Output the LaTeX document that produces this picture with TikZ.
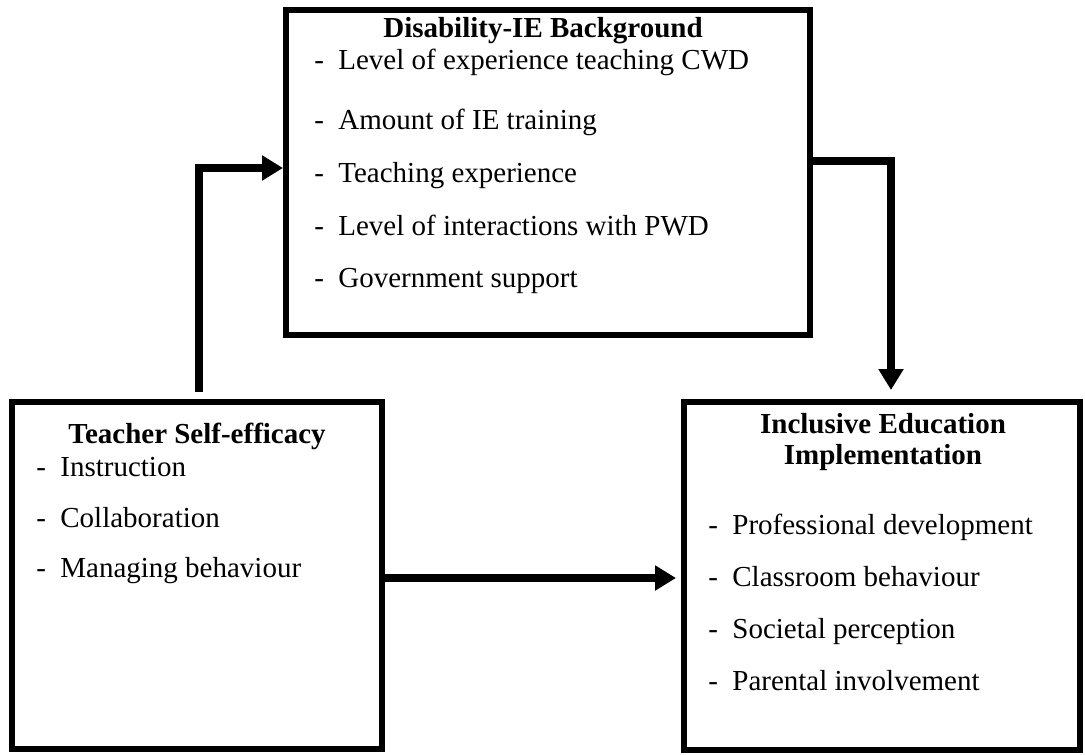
\documentclass[tikz,border=0pt]{standalone}
\usepackage{fontspec}
\setmainfont{Liberation Serif}
\usetikzlibrary{arrows.meta}
\begin{document}
\begin{tikzpicture}[x=0.5pt,y=-0.5pt,
  boxnode/.style={draw=black, line width=3pt, inner sep=0pt},
  arr/.style={line width=4pt, -{Triangle[length=10.5pt,width=12pt]}, line join=miter},
  item/.style={anchor=base west, inner sep=0pt, font=\fontsize{14.5}{17}\selectfont},
  ttl/.style={anchor=base, inner sep=0pt, font=\fontsize{14.5}{17}\selectfont\bfseries}]
\useasboundingbox (0,0) rectangle (1085,754);
\fill[white] (0,0) rectangle (1085,754);
% boxes
\node[boxnode, minimum width=262pt, minimum height=162.5pt] (tb) at (548,172.5) {};
\node[boxnode, minimum width=185pt, minimum height=173.5pt] (lb) at (197,575.5) {};
\node[boxnode, minimum width=198pt, minimum height=174pt] (rb) at (882,576) {};
% connectors
\coordinate (a1s) at (199,392);
\coordinate (a2e) at (891,390);
\coordinate (a3e) at (676,578);
\draw[arr] (a1s) |- (tb.west |- 0,168);
\draw[arr] (tb.east |- 0,161) -| (a2e);
\draw[arr] (lb.east |- a3e) -- (a3e);
% top box text
\node[ttl] (tbt) at (543,38) {Disability-IE Background};
\node[item] (tb1) at (314,70) {\makebox[12pt][l]{-}Level of experience teaching CWD};
\node[item] (tb2) at (314,130) {\makebox[12pt][l]{-}Amount of IE training};
\node[item] (tb3) at (314,183) {\makebox[12pt][l]{-}Teaching experience};
\node[item] (tb4) at (314,235) {\makebox[12pt][l]{-}Level of interactions with PWD};
\node[item] (tb5) at (314,287) {\makebox[12pt][l]{-}Government support};
% left box text
\node[ttl] (lbt) at (197,443) {Teacher Self-efficacy};
\node[item] (lb1) at (36,476) {\makebox[12pt][l]{-}Instruction};
\node[item] (lb2) at (36,527) {\makebox[12pt][l]{-}Collaboration};
\node[item] (lb3) at (36,577) {\makebox[12pt][l]{-}Managing behaviour};
% right box text
\node[ttl] (rbt1) at (883,433) {Inclusive Education};
\node[ttl] (rbt2) at (883,464) {Implementation};
\node[item] (rb1) at (708,534) {\makebox[12pt][l]{-}Professional development};
\node[item] (rb2) at (708,586) {\makebox[12pt][l]{-}Classroom behaviour};
\node[item] (rb3) at (708,638) {\makebox[12pt][l]{-}Societal perception};
\node[item] (rb4) at (708,690) {\makebox[12pt][l]{-}Parental involvement};
\end{tikzpicture}
\end{document}
